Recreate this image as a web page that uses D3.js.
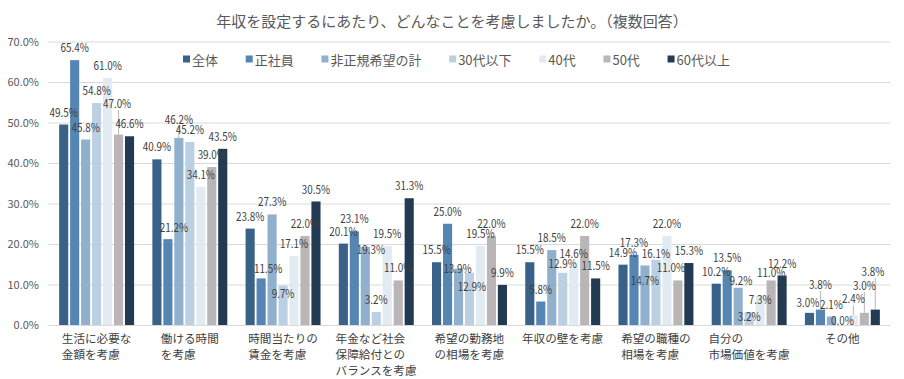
<!DOCTYPE html>
<html><head><meta charset="utf-8">
<script src="https://cdn.jsdelivr.net/npm/d3@7"></script>
<style>
body{margin:0;background:#fff}
svg{display:block}
text{font-family:"Noto Sans CJK JP","Noto Sans",sans-serif}
</style>
</head><body>
<svg id="chart" width="904" height="379"></svg>
<script>
const title = "年収を設定するにあたり、どんなことを考慮しましたか。（複数回答）";
const categories = ["生活に必要な\n金額を考慮","働ける時間\nを考慮","時間当たりの\n賃金を考慮","年金など社会\n保障給付との\nバランスを考慮","希望の勤務地\nの相場を考慮","年収の壁を考慮","希望の職種の\n相場を考慮","自分の\n市場価値を考慮","その他"];
const seriesNames = ["全体","正社員","非正規希望の計","30代以下","40代","50代","60代以上"];
const total      = [49.5,40.9,23.8,20.1,15.5,15.5,14.9,10.2,3.0];
const regular    = [65.4,21.2,11.5,23.1,25.0,5.8,17.3,13.5,3.8];
const nonRegular = [45.8,46.2,27.3,19.3,13.9,18.5,14.7,9.2,2.1];
const age30      = [54.8,45.2,9.7,3.2,12.9,12.9,16.1,3.2,0.0];
const age40      = [61.0,34.1,17.1,19.5,19.5,14.6,22.0,7.3,2.4];
const age50      = [47.0,39.0,22.0,11.0,22.0,22.0,11.0,11.0,3.0];
const age60      = [46.6,43.5,30.5,31.3,9.9,11.5,15.3,12.2,3.8];
const yTicks = [0,10,20,30,40,50,60,70];

// label nudges (px) per series, per category
const labelDx = [
  [0,0,0,0,0,0,0,0,-1.5],
  [0,6,7,0,0,0,0,0,0],
  [0,0,0,5.7,-1,0,0,2.7,0],
  [0,0,0,0,2.5,0,0,0,0],
  [0,0,0,0,0,0,0,0,0],
  [-1.5,0,0,0,0,0,-7,0,0],
  [0,0,0,0,0,0,0,0,-2.4]
];
const labelDy = [
  [0,0,0,0,0,0,0,0,1.7],
  [0,1,3,0,0,0,0,0,-12.8],
  [0,-6,0,15.3,12.4,0,27.3,5,0],
  [0,0,20.4,0,26.7,3.3,6.3,16.8,7.8],
  [0,0,0,0,0,0,0,16.7,-4.2],
  [-19,0,0,0,0,0,0,5,-15],
  [0,0,0,0,0,0,0,0,-26]
];

const colors = ["#3a6289","#5586b3","#91b0cd","#bcd0e3","#e2eaf2","#bab5b6","#223a52"];
const seriesValues = [total, regular, nonRegular, age30, age40, age50, age60];

const svg = d3.select("#chart");
const W = 904, H = 379;
const plot = {left: 48, right: 890, top: 41.5, bottom: 325};

svg.append("text")
  .attr("x", W/2).attr("y", 20)
  .attr("text-anchor","middle").attr("dominant-baseline","central")
  .attr("font-size", 15).attr("fill","#595959")
  .text(title);

const y = d3.scaleLinear().domain([0,70]).range([plot.bottom, plot.top]);
const x0 = d3.scaleBand().domain(d3.range(categories.length)).range([50, 889]).paddingInner(0.196).paddingOuter(0.098);
const x1 = d3.scaleBand().domain(d3.range(seriesNames.length)).range([0, x0.bandwidth()]).paddingInner(0.17).paddingOuter(0);

// grid + y axis
const yAxis = d3.axisLeft(y).tickValues(yTicks).tickSizeInner(-(plot.right-plot.left)).tickSizeOuter(0)
  .tickPadding(9).tickFormat(d => d.toFixed(1) + "%");
const gy = svg.append("g").attr("transform", `translate(${plot.left},0)`).call(yAxis);
gy.select(".domain").remove();
gy.selectAll(".tick line").attr("stroke","#d9d9d9").attr("stroke-width",1);
gy.selectAll(".tick text").attr("fill","#595959").attr("font-size",11)
  .style("font-family",'"Noto Sans CJK JP","Noto Sans",sans-serif');

// bars
const groups = svg.append("g").selectAll("g").data(categories).join("g")
  .attr("transform", (d,i) => `translate(${x0(i)},0)`);
groups.selectAll("rect").data((d,ci) => seriesValues.map((vals,si) => ({ci, si, v: vals[ci]})))
  .join("rect")
  .attr("x", d => x1(d.si)).attr("width", x1.bandwidth())
  .attr("y", d => y(d.v)).attr("height", d => y(0) - y(d.v))
  .attr("fill", d => colors[d.si]);

// labels data
const labels = [];
categories.forEach((c,ci) => seriesValues.forEach((vals,si) => {
  const cx = x0(ci) + x1(si) + x1.bandwidth()/2;
  const top = y(vals[ci]);
  labels.push({cx, top, lx: cx + labelDx[si][ci], ly: top - 12.8 + labelDy[si][ci], v: vals[ci], dy: labelDy[si][ci]});
}));

// leader lines
svg.append("g").selectAll("line").data(labels.filter(d => d.dy < -3)).join("line")
  .attr("x1", d => d.cx).attr("x2", d => d.cx)
  .attr("y1", d => d.ly + 7).attr("y2", d => d.top)
  .attr("stroke","#a6a6a6").attr("stroke-width",0.8);

svg.append("g").selectAll("text").data(labels).join("text")
  .attr("transform", d => `translate(${d.lx},${d.ly}) scale(0.86,1)`)
  .attr("text-anchor","middle").attr("dominant-baseline","central")
  .attr("font-size", 11.5).attr("fill","#404040")
  .text(d => d.v.toFixed(1) + "%");

// category labels
const catG = svg.append("g").selectAll("g").data(categories).join("g");
catG.each(function(c, ci) {
  const lines = c.split("\n");
  const g = d3.select(this);
  const t = g.append("text").attr("font-size", 11.6).attr("fill","#404040");
  lines.forEach((ln, li) => {
    t.append("tspan").attr("x", 0).attr("y", 343 + li*16).text(ln);
  });
  const w = t.node().getBBox().width;
  const center = x0(ci) + x0.bandwidth()/2;
  t.attr("transform", `translate(${center - w/2},0)`);
});

// legend
const leg = svg.append("g");
const items = seriesNames.map((n,i) => {
  const g = leg.append("g");
  g.append("rect").attr("x",0).attr("y",-3.5).attr("width",7).attr("height",7).attr("fill",colors[i]);
  const t = g.append("text").attr("x",9).attr("y",0).attr("dominant-baseline","central")
    .attr("font-size",13).attr("fill","#595959").text(n);
  return {g, w: 9 + t.node().getComputedTextLength()};
});
const legStart = 183, legEnd = 730;
const sumW = d3.sum(items, d => d.w);
const gap = (legEnd - legStart - sumW) / (items.length - 1);
let lx = legStart;
items.forEach(it => { it.g.attr("transform", `translate(${lx},59)`); lx += it.w + gap; });
</script>
</body></html>
